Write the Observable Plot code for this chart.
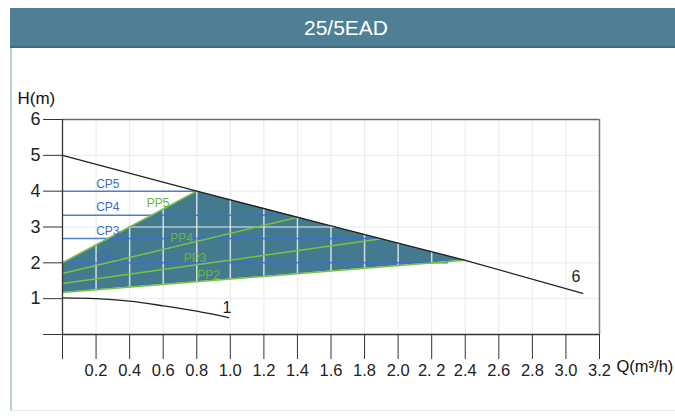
<!DOCTYPE html>
<html><head><meta charset="utf-8">
<script src="https://cdn.jsdelivr.net/npm/d3@7"></script>
<script src="https://cdn.jsdelivr.net/npm/@observablehq/plot@0.6"></script>
<style>
body{margin:0;background:#fff;width:675px;height:416px;overflow:hidden;position:relative;font-family:"Liberation Sans",Arial,sans-serif}
#card{position:absolute;left:10px;top:8px;width:690px;height:403px;border-left:2px solid #b9d2da;border-bottom:1px solid #e3e7e9;box-sizing:border-box}
#header{position:absolute;left:10px;top:8px;width:672px;height:38px;background:#4e7f94;border-bottom:2px solid #3e6b7f;color:#fff;font-size:21px;text-align:center;line-height:40px;font-family:"Liberation Sans",Arial,sans-serif}
#chart{position:absolute;left:0;top:47px}
#chart svg{overflow:visible}
</style></head>
<body>
<div id="card"></div>
<div id="header">25/5EAD</div>
<div id="chart"></div>
<script>
// ---- data ----
const qTicks = [0,0.2,0.4,0.6,0.8,1.0,1.2,1.4,1.6,1.8,2.0,2.2,2.4,2.6,2.8,3.0,3.2];
const qTickLabels = ["","0.2","0.4","0.6","0.8","1.0","1.2","1.4","1.6","1.8","2.0","2. 2","2.4","2.6","2.8","3.0","3.2"];
const hTicks = [0,1,2,3,4,5,6];
const hTickLabels = ["","1","2","3","4","5","6"];
const hGrid = [1,2,3,4,5];

// max curve (6)
const maxQ = [0,0.8,1.6,2.4,3.1];
const maxH = [5.0,4.0,3.03,2.07,1.15];
// min curve (1)
const minQ = [0,0.2,0.4,0.6,0.8,0.99];
const minH = [1.02,1.0,0.93,0.80,0.65,0.47];

// proportional pressure lines
const ppNames = ["PP5","PP4","PP3","PP2"];
const ppQ0 = [0,0,0,0];
const ppH0 = [2.0,1.70,1.42,1.17];
const ppQ1 = [0.8,1.4,1.9,2.4];
const ppH1 = [4.0,3.27,2.67,2.07];
const ppLabelQ = [0.57,0.71,0.79,0.87];
const ppLabelH = [3.66,2.70,2.12,1.65];

// constant pressure lines
const cpNames = ["CP5","CP4","CP3","CP2"];
const cpH = [4.0,3.33,2.68,2.0];
const cpQEnd = [0.8,1.35,1.89,2.3];
const cpLabelQ = [0.27,0.27,0.27,0.27];
const cpLabelH = [4.2,3.55,2.88,2.2];

// curve labels
const curveNames = ["1","6"];
const curveLabelQ = [0.98,3.06];
const curveLabelH = [0.75,1.6];

// ---- helpers ----
function interp(xs, ys, x){
  for(let i=0;i<xs.length-1;i++){
    if(x>=xs[i] && x<=xs[i+1]) return ys[i]+(ys[i+1]-ys[i])*(x-xs[i])/(xs[i+1]-xs[i]);
  }
  return NaN;
}
function inv(xs, ys, y){
  for(let i=0;i<xs.length-1;i++){
    const a=ys[i], b=ys[i+1];
    if((y-a)*(y-b)<=0 && a!==b) return xs[i]+(xs[i+1]-xs[i])*(y-a)/(b-a);
  }
  return NaN;
}
// operating area: top = PP5 then max curve, bottom = PP2
const topQ = [ppQ0[0], ppQ1[0], ...maxQ.filter(q=>q>ppQ1[0] && q<=ppQ1[3])];
const topH = topQ.map((q,i)=> i===0 ? ppH0[0] : interp(maxQ,maxH,q));
const botQ = [ppQ0[3], ppQ1[3]], botH = [ppH0[3], ppH1[3]];
const areaData = topQ.map((q,i)=>({q, top:topH[i], bot:interp(botQ,botH,q)}));
const whiteV = qTicks.filter(q=>q>0 && q<ppQ1[3]).map(q=>({q, y1:interp(botQ,botH,q), y2:interp(topQ,topH,q)}));
const whiteH = [3].map(h=>({h, x1:inv(topQ.slice(0,2),topH.slice(0,2),h), x2:inv(maxQ,maxH,h)}));

const maxData = maxQ.map((q,i)=>({q,h:maxH[i]}));
const minData = minQ.map((q,i)=>({q,h:minH[i]}));
const ppData = ppNames.map((n,i)=>({n,q0:ppQ0[i],h0:ppH0[i],q1:ppQ1[i],h1:ppH1[i],lq:ppLabelQ[i],lh:ppLabelH[i]}));
const cpData = cpNames.map((n,i)=>({n,h:cpH[i],qe:cpQEnd[i],lq:cpLabelQ[i],lh:cpLabelH[i]}));
const curveLabels = curveNames.map((n,i)=>({n,q:curveLabelQ[i],h:curveLabelH[i]}));

const sans = '"Liberation Sans",Arial,sans-serif';
const qFmt = d => qTickLabels[qTicks.findIndex(t=>Math.abs(t-d)<1e-9)] ?? "";
const hFmt = d => hTickLabels[hTicks.findIndex(t=>Math.abs(t-d)<1e-9)] ?? "";

const chart = Plot.plot({
  width: 675, height: 369,
  marginLeft: 62, marginRight: 76, marginTop: 72, marginBottom: 82,
  style: {background:"transparent", fontFamily:sans, color:"#222"},
  x: {domain:[0,3.2]},
  y: {domain:[0,6]},
  marks: [
    Plot.ruleX(qTicks.filter(q=>q>0 && q<3.2), {x:d=>d, y1:0, y2:6, stroke:"#e6ecec", strokeWidth:1}),
    Plot.ruleY(hGrid, {y:d=>d, x1:0, x2:3.2, stroke:"#e6ecec", strokeWidth:1}),
    Plot.areaY(areaData, {x:"q", y1:"bot", y2:"top", fill:"#437a8f"}),
    Plot.ruleX(whiteV, {x:"q", y1:"y1", y2:"y2", stroke:"#ffffff", strokeOpacity:0.75, strokeWidth:1.5}),
    Plot.ruleY(whiteH, {y:"h", x1:"x1", x2:"x2", stroke:"#ffffff", strokeOpacity:0.6, strokeWidth:1.5}),
    Plot.ruleY(cpData, {y:"h", x1:0, x2:"qe", stroke:"#3f6fc4", strokeOpacity:0.9, strokeWidth:1.5}),
    Plot.link(ppData, {x1:"q0", y1:"h0", x2:"q1", y2:"h1", stroke:"#7cc242", strokeWidth:1.5}),
    Plot.line(maxData, {x:"q", y:"h", stroke:"#222", strokeWidth:1.3}),
    Plot.line(minData, {x:"q", y:"h", stroke:"#222", strokeWidth:1.3, curve:"monotone-x"}),
    Plot.text(cpData, {x:"lq", y:"lh", text:"n", fill:"#3d6cc0", fontSize:12, fontFamily:sans, letterSpacing:"-0.5px"}),
    Plot.text(ppData, {x:"lq", y:"lh", text:"n", fill:"#6cb43e", fontSize:12, fontFamily:sans, letterSpacing:"-0.5px"}),
    Plot.text(curveLabels, {x:"q", y:"h", text:"n", fill:"#222", fontSize:16, fontFamily:sans}),
    // frame top & right
    Plot.ruleY([6], {y:d=>d, x1:0, x2:3.2, stroke:"#6b6b6b", strokeWidth:1.5}),
    Plot.ruleX([3.2], {x:d=>d, y1:0, y2:6, stroke:"#777", strokeWidth:1.5}),
    // axis lines
    Plot.ruleY([0], {y:d=>d, x1:0, x2:3.2, stroke:"#333", strokeWidth:1.3}),
    Plot.ruleX([0], {x:d=>d, y1:0, y2:6, stroke:"#333", strokeWidth:1.3}),
    Plot.axisY({ticks:hTicks, tickFormat:hFmt, tickSize:19, tickPadding:3, fontSize:18, fontFamily:sans, stroke:"#333", label:null}),
    Plot.axisX({ticks:qTicks, tickFormat:qFmt, tickSize:25, tickPadding:5, fontSize:16.5, fontFamily:sans, letterSpacing:"-0.6px", stroke:"#333", label:null}),
    Plot.text(["H(m)"], {frameAnchor:"top-left", lineAnchor:"middle", dx:-45, dy:-21, textAnchor:"start", fontSize:17, fontFamily:sans, fill:"#111"}),
    Plot.text(["Q(m³/h)"], {frameAnchor:"bottom-right", dx:17, dy:37, textAnchor:"start", fontSize:16.5, fontFamily:sans, letterSpacing:"-0.6px", fill:"#111"})
  ]
});
document.getElementById("chart").appendChild(chart);
</script>
</body></html>
